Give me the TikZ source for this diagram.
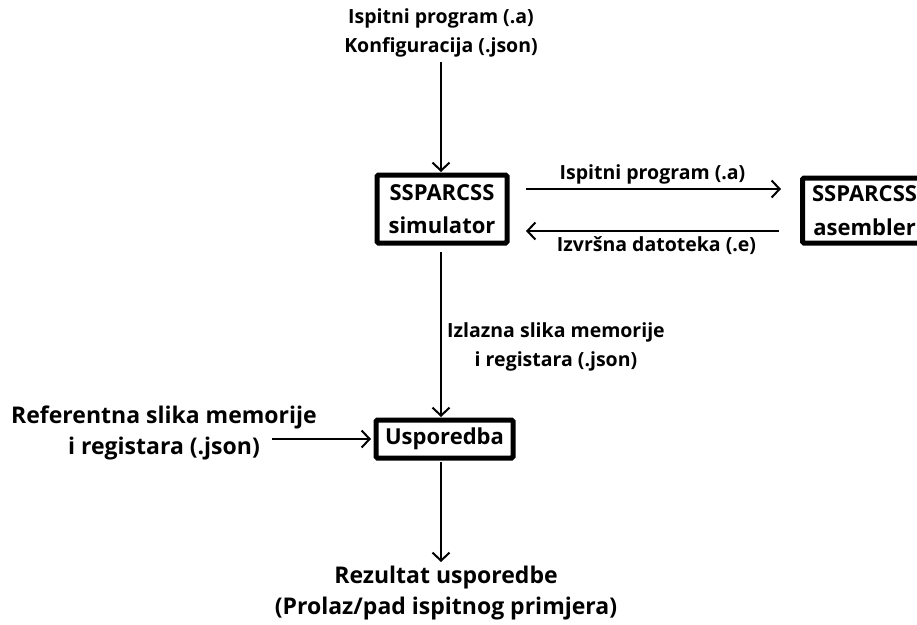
\documentclass[tikz,border=0pt]{standalone}
\usepackage{fontspec}
\setmainfont{Open Sans}
\usetikzlibrary{arrows.meta}
\begin{document}
\begin{tikzpicture}[x=1pt,y=-1pt,
  box/.style={draw,line width=5pt,rounded corners=1.5pt,inner sep=3pt,font=\bfseries\fontsize{22}{34}\selectfont,align=center},
  lbl/.style={font=\bfseries\fontsize{19.5}{29}\selectfont,align=center,inner sep=0pt},
  big/.style={font=\bfseries\fontsize{23}{30.5}\selectfont,align=center,inner sep=0pt},
  arr/.style={line width=2pt,-{Straight Barb[length=8pt,width=17pt,line width=2pt]}}]
\useasboundingbox (0,0) rectangle (917,624);
\begin{scope}
\clip (0,0) rectangle (917,624);
\node[lbl] (top) at (441,33) {Ispitni program (.a)\\Konfiguracija (.json)};
\node[box,minimum width=130pt,minimum height=68pt] (sim) at (442,209) {SSPARCSS\\[-1pt]simulator};
\node[box,anchor=west,minimum width=124pt,minimum height=65pt] (asm) at (800,210.5) {SSPARCSS\\asembler};
\node[box,minimum width=137pt,minimum height=38pt] (usp) at (444.5,439) {Usporedba};
\node[big] (ref) at (164,433) {Referentna slika memorije\\i registara (.json)};
\node[big] (res) at (446,593) {Rezultat usporedbe\\(Prolaz/pad ispitnog primjera)};
\coordinate (a1) at (526,189);
\coordinate (a2) at (781,189);
\coordinate (b1) at (779,231);
\coordinate (b2) at (526,231);
\draw[arr] (a1) -- node[lbl,above=4pt,xshift=-1pt] {Ispitni program (.a)} (a2);
\draw[arr] (b1) -- node[lbl,below=5pt,xshift=4pt] {Izvršna datoteka (.e)} (b2);
\draw[arr] (441,62) -- (441,172);
\draw[arr] (441,252) -- node[lbl,right=8pt,xshift=107pt,yshift=-12pt,anchor=center] {Izlazna slika memorije\\i registara (.json)} (441,417);
\draw[arr] (272,439) -- (371,439);
\draw[arr] (441,462) -- (441,562);
\end{scope}
\end{tikzpicture}
\end{document}
